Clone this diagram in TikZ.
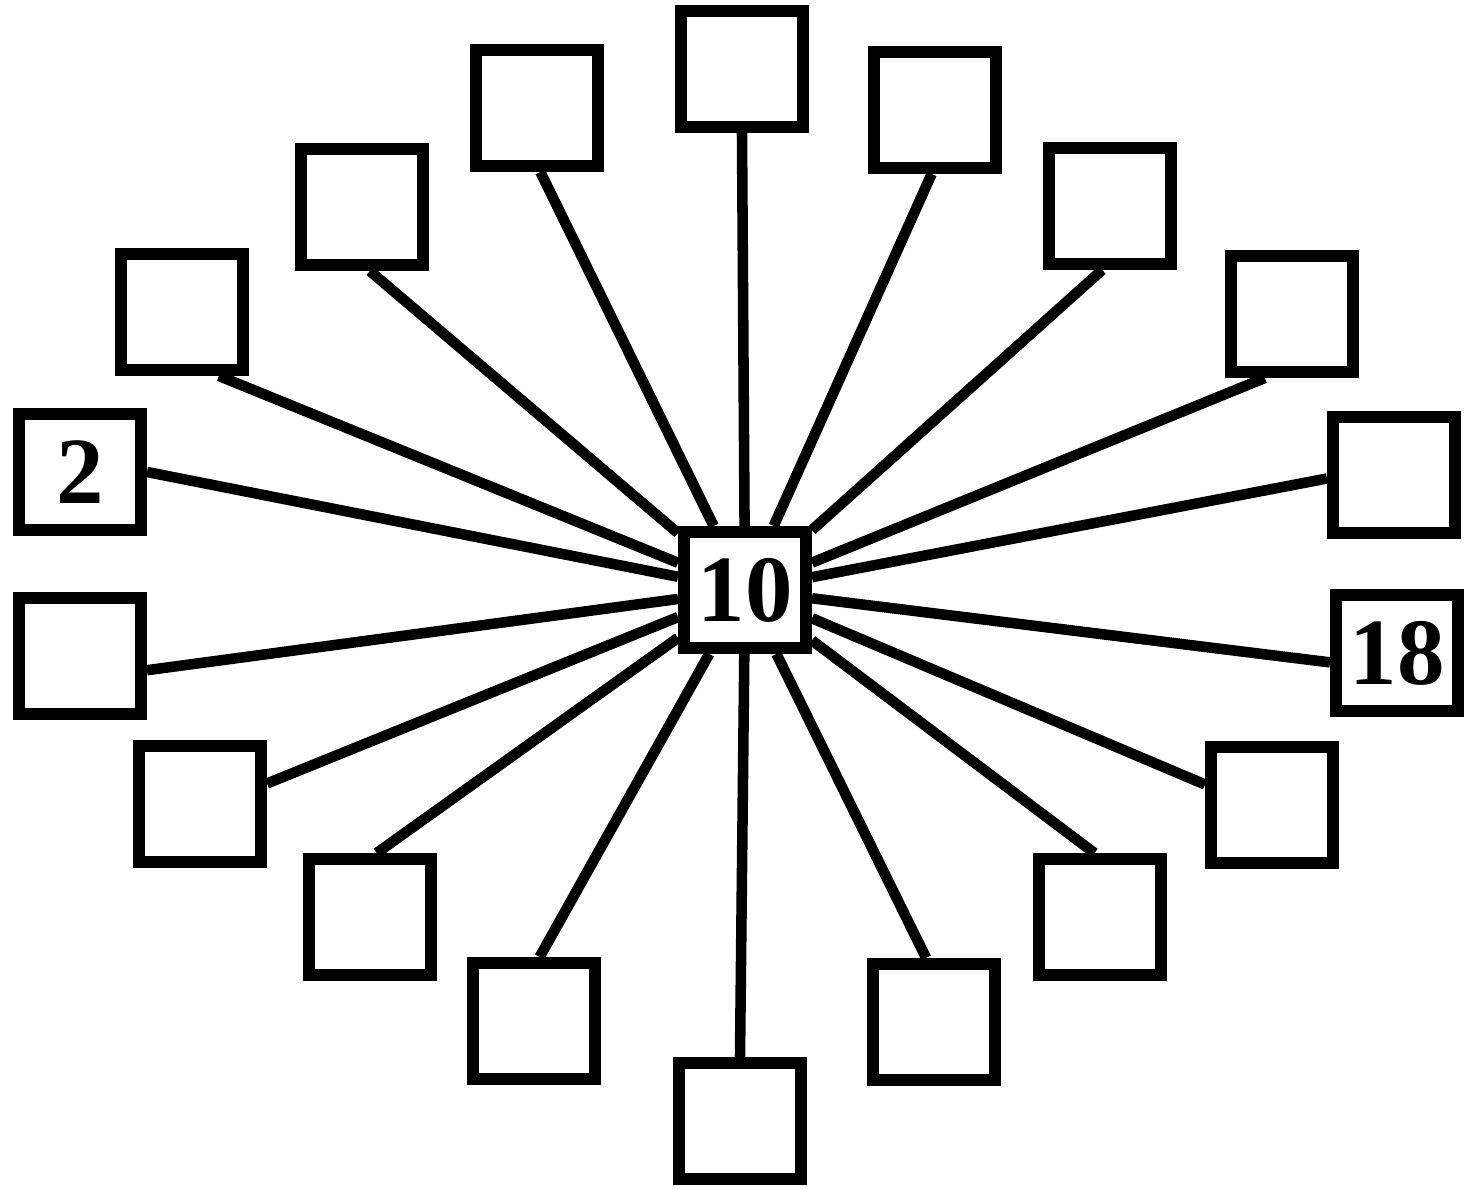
\documentclass[tikz,border=0pt]{standalone}
\usepackage{fontspec}
\setmainfont{Liberation Serif}
\usepackage{tikz}
\usetikzlibrary{calc}

\begin{document}
\begin{tikzpicture}[box/.style={draw, line width=3.4pt, minimum width=1.22cm, minimum height=1.16cm, inner sep=0pt, font=\fontsize{27}{30}\selectfont\bfseries}, spoke/.style={line width=3pt}]
\useasboundingbox (0,0) rectangle (14.65,11.89);
\node[box] (c) at (7.45,5.99) {10};
\node[box] (t) at (7.42,11.20) {};
\node[box] (r1) at (9.35,10.79) {};
\node[box] (r2) at (11.10,9.83) {};
\node[box] (r3) at (12.92,8.75) {};
\node[box] (r4) at (13.94,7.14) {};
\node[box] (r5) at (13.97,5.36) {18};
\node[box] (r6) at (12.72,3.84) {};
\node[box] (r7) at (11.00,2.72) {};
\node[box] (r8) at (9.34,1.67) {};
\node[box] (b) at (7.40,0.68) {};
\node[box] (l8) at (5.34,1.68) {};
\node[box] (l7) at (3.70,2.72) {};
\node[box] (l6) at (2.00,3.85) {};
\node[box] (l5) at (0.80,5.33) {};
\node[box] (l4) at (0.80,7.17) {2};
\node[box] (l3) at (1.82,8.77) {};
\node[box] (l2) at (3.62,9.82) {};
\node[box] (l1) at (5.37,10.81) {};
\draw[spoke] (t.270) -- (c);
\draw[spoke] (r1.267) -- (c);
\draw[spoke] (r2.263) -- (c);
\draw[spoke] (r3.247) -- (c);
\draw[spoke] (r4.183) -- (c);
\draw[spoke] (r5.188) -- (c);
\draw[spoke] (r6.163) -- (c);
\draw[spoke] (r7.95) -- (c);
\draw[spoke] (r8.97) -- (c);
\draw[spoke] (b.90) -- (c);
\draw[spoke] (l8.85) -- (c);
\draw[spoke] (l7.84) -- (c);
\draw[spoke] (l6.17) -- (c);
\draw[spoke] (l5.-12) -- (c);
\draw[spoke] (l4.0) -- (c);
\draw[spoke] (l3.-60) -- (c);
\draw[spoke] (l2.-83) -- (c);
\draw[spoke] (l1.-87) -- (c);
\end{tikzpicture}
\end{document}
